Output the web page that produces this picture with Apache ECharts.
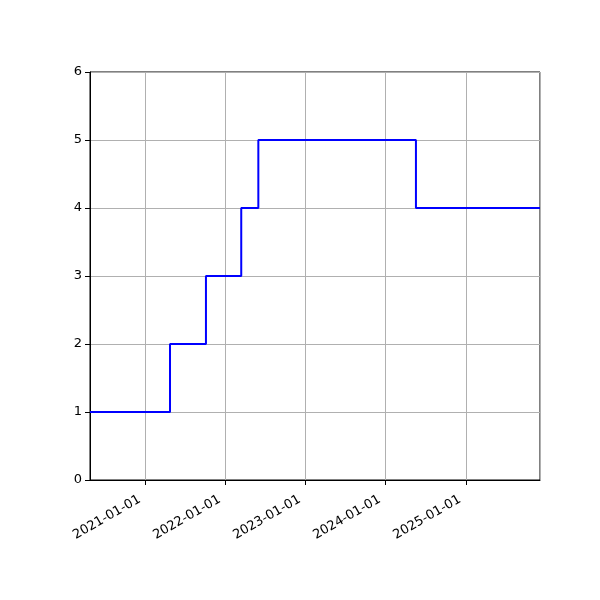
<!DOCTYPE html>
<html>
<head>
<meta charset="utf-8">
<script src="https://cdn.jsdelivr.net/npm/echarts@6/dist/echarts.min.js"></script>
<style>
  html, body { margin: 0; padding: 0; background: #fff; }
  #chart { width: 600px; height: 600px; }
</style>
</head>
<body>
<div id="chart"></div>
<script>
// step dates (value holds from this date on) and values
var stepDates = ['2020-04-22', '2021-04-22', '2021-10-03', '2022-03-13', '2022-05-30', '2024-05-18', '2025-12-05'];
var stepValues = [1, 2, 3, 4, 5, 4, 4];

var xMin = '2020-04-22';
var xMax = '2025-12-05';
var yTicks = [0, 1, 2, 3, 4, 5, 6];

var dom = document.getElementById('chart');
var myChart = echarts.init(dom);

var seriesData = [];
for (var i = 0; i < stepDates.length; i++) {
    seriesData.push([stepDates[i], stepValues[i]]);
}

var option = {
    animation: false,
    backgroundColor: '#fff',
    grid: {
        left: 90,
        right: 60,
        top: 72,
        bottom: 120,
        show: true,
        borderColor: '#000',
        borderWidth: 1,
        backgroundColor: 'transparent'
    },
    xAxis: {
        type: 'time',
        min: xMin,
        max: xMax,
        minInterval: 365 * 86400000,
        maxInterval: 366 * 86400000,
        axisLine: { show: true, lineStyle: { color: '#000', width: 1 } },
        axisTick: { show: true, inside: false, length: 5, lineStyle: { color: '#000' } },
        axisLabel: {
            rotate: 30,
            color: '#000',
            fontFamily: 'DejaVu Sans',
            fontSize: 13,
            margin: 15,
            padding: [0, 7, 0, 0],
            formatter: '{yyyy}-{MM}-{dd}',
            showMinLabel: false,
            showMaxLabel: false
        },
        splitLine: { show: true, lineStyle: { color: '#b0b0b0', width: 1 } }
    },
    yAxis: {
        type: 'value',
        min: yTicks[0],
        max: yTicks[yTicks.length - 1],
        interval: 1,
        axisLine: { show: true, lineStyle: { color: '#000', width: 1 } },
        axisTick: { show: true, inside: false, length: 5, lineStyle: { color: '#000' } },
        axisLabel: {
            color: '#000',
            fontFamily: 'DejaVu Sans',
            fontSize: 13,
            margin: 8
        },
        splitLine: { show: true, lineStyle: { color: '#b0b0b0', width: 1 } }
    },
    series: [
        {
            type: 'line',
            step: 'end',
            data: seriesData,
            symbol: 'none',
            lineStyle: { color: '#0000ff', width: 2 }
        }
    ]
};

myChart.setOption(option, true);
</script>
</body>
</html>
